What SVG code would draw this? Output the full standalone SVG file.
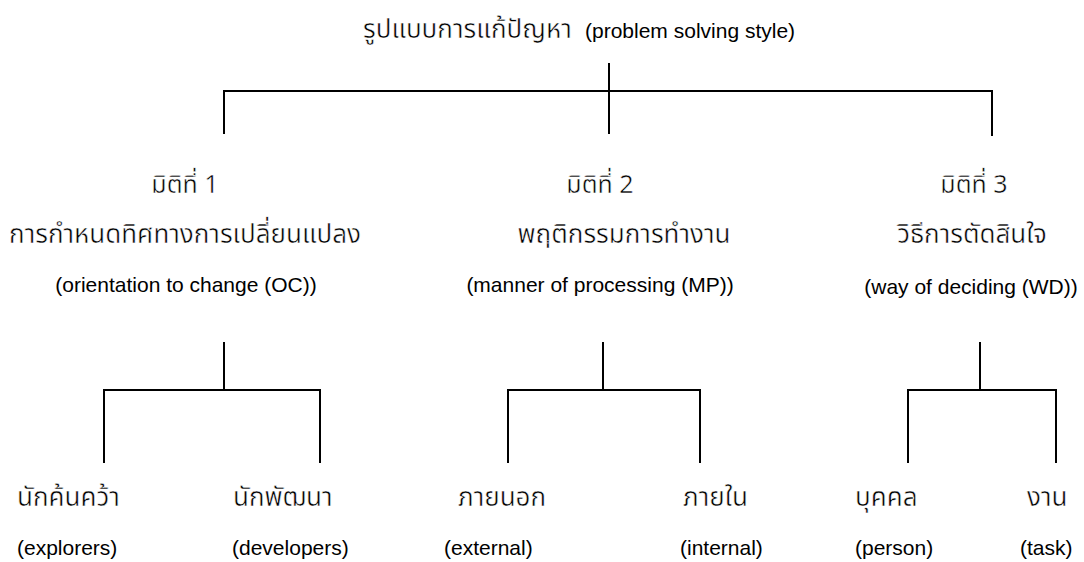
<svg xmlns="http://www.w3.org/2000/svg" width="1084" height="562" viewBox="0 0 1084 562">
  <style>
    .th { font-family: "Noto Sans Thai", "Noto Sans", sans-serif; fill: #000; font-size: 26px; stroke: #fff; stroke-width: 0.5; }
    .hd { font-size: 25px; }
    .en { font-family: "Liberation Sans", Arial, sans-serif; fill: #000; font-size: 21px; stroke: none; }
    .ln { stroke: #000; stroke-width: 2; fill: none; stroke-linecap: square; }
  </style>
  <rect width="1084" height="562" fill="#fff"/>

  <!-- root -->
  <g id="root">
    <text x="363" y="38" class="th">รูปแบบการแก้ปัญหา<tspan class="en" x="585" font-size="23">(problem solving style)</tspan></text>
  </g>

  <!-- dimensions -->
  <g id="dim1" text-anchor="middle">
    <text x="185" y="193" class="th hd">มิติที่ 1</text>
    <text x="185" y="243" class="th">การกำหนดทิศทางการเปลี่ยนแปลง</text>
    <text x="186" y="292" class="en">(orientation to change (OC))</text>
  </g>
  <g id="dim2" text-anchor="middle">
    <text x="600" y="193" class="th hd">มิติที่ 2</text>
    <text x="624" y="243" class="th">พฤติกรรมการทำงาน</text>
    <text x="600" y="292" class="en">(manner of processing (MP))</text>
  </g>
  <g id="dim3" text-anchor="middle">
    <text x="974" y="193" class="th hd">มิติที่ 3</text>
    <text x="972" y="243" class="th">วิธีการตัดสินใจ</text>
    <text x="971" y="294" class="en">(way of deciding (WD))</text>
  </g>

  <!-- leaves -->
  <g id="explorers">
    <text x="17" y="506" class="th">นักค้นคว้า</text>
    <text x="17" y="555" class="en">(explorers)</text>
  </g>
  <g id="developers">
    <text x="233" y="506" class="th">นักพัฒนา</text>
    <text x="232" y="555" class="en">(developers)</text>
  </g>
  <g id="external">
    <text x="458" y="506" class="th">ภายนอก</text>
    <text x="444" y="555" class="en">(external)</text>
  </g>
  <g id="internal">
    <text x="683" y="506" class="th">ภายใน</text>
    <text x="680" y="555" class="en">(internal)</text>
  </g>
  <g id="person">
    <text x="855" y="506" class="th">บุคคล</text>
    <text x="855" y="555" class="en">(person)</text>
  </g>
  <g id="task">
    <text x="1027" y="506" class="th">งาน</text>
    <text x="1020" y="555" class="en">(task)</text>
  </g>

  <!-- connectors -->
  <g id="connectors" class="ln">
    <path d="M609 64 V133 M224 91 H992 M224 91 V133 M992 91 V135"/>
    <path d="M224 343 V390 M104 390 H320 M104 390 V462 M320 390 V462"/>
    <path d="M603 343 V390 M508 390 H700 M508 390 V462 M700 390 V462"/>
    <path d="M980 343 V390 M908 390 H1056 M908 390 V462 M1056 390 V462"/>
  </g>
</svg>
